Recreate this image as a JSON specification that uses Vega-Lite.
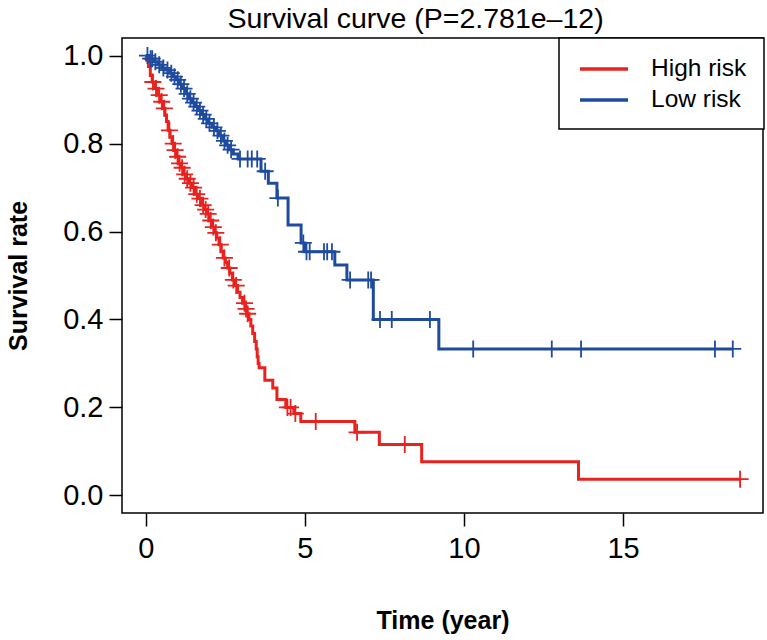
{
  "$schema": "https://vega.github.io/schema/vega-lite/v6.json",
  "width": 641,
  "height": 475,
  "autosize": {"type": "none"},
  "padding": {"left": 122, "top": 38, "right": 4, "bottom": 127},
  "background": "white",
  "config": {
    "font": "Liberation Sans",
    "view": {"stroke": "black", "strokeWidth": 1.5},
    "axis": {"grid": false, "domain": false, "tickColor": "black", "tickWidth": 1.5, "tickSize": 13, "labelColor": "black", "labelFontSize": 29, "labelFont": "Liberation Sans", "titleFont": "Liberation Sans", "titleFontSize": 25, "titleFontWeight": "bold", "titleColor": "black"}
  },
  "title": {"text": "Survival curve (P=2.781e\u201312)", "fontSize": 28.5, "fontWeight": "normal", "font": "Liberation Sans", "color": "black", "anchor": "middle", "dx": -27, "offset": 4},
  "data": {"values": [
    {"g":"High risk","t":0,"s":1,"k":"s"},
    {"g":"High risk","t":0.02,"s":0.99,"k":"e"},
    {"g":"High risk","t":0.08,"s":0.975,"k":"e"},
    {"g":"High risk","t":0.14,"s":0.955,"k":"e"},
    {"g":"High risk","t":0.2,"s":0.94,"k":"e"},
    {"g":"High risk","t":0.28,"s":0.925,"k":"e"},
    {"g":"High risk","t":0.36,"s":0.91,"k":"e"},
    {"g":"High risk","t":0.45,"s":0.895,"k":"e"},
    {"g":"High risk","t":0.53,"s":0.88,"k":"e"},
    {"g":"High risk","t":0.6,"s":0.865,"k":"e"},
    {"g":"High risk","t":0.65,"s":0.85,"k":"e"},
    {"g":"High risk","t":0.7,"s":0.83,"k":"e"},
    {"g":"High risk","t":0.76,"s":0.815,"k":"e"},
    {"g":"High risk","t":0.82,"s":0.8,"k":"e"},
    {"g":"High risk","t":0.88,"s":0.785,"k":"e"},
    {"g":"High risk","t":0.95,"s":0.77,"k":"e"},
    {"g":"High risk","t":1.02,"s":0.755,"k":"e"},
    {"g":"High risk","t":1.1,"s":0.745,"k":"e"},
    {"g":"High risk","t":1.18,"s":0.73,"k":"e"},
    {"g":"High risk","t":1.26,"s":0.72,"k":"e"},
    {"g":"High risk","t":1.35,"s":0.71,"k":"e"},
    {"g":"High risk","t":1.45,"s":0.7,"k":"e"},
    {"g":"High risk","t":1.55,"s":0.685,"k":"e"},
    {"g":"High risk","t":1.65,"s":0.675,"k":"e"},
    {"g":"High risk","t":1.75,"s":0.66,"k":"e"},
    {"g":"High risk","t":1.85,"s":0.65,"k":"e"},
    {"g":"High risk","t":1.92,"s":0.64,"k":"e"},
    {"g":"High risk","t":2.0,"s":0.625,"k":"e"},
    {"g":"High risk","t":2.08,"s":0.61,"k":"e"},
    {"g":"High risk","t":2.16,"s":0.597,"k":"e"},
    {"g":"High risk","t":2.23,"s":0.585,"k":"e"},
    {"g":"High risk","t":2.3,"s":0.57,"k":"e"},
    {"g":"High risk","t":2.37,"s":0.555,"k":"e"},
    {"g":"High risk","t":2.43,"s":0.54,"k":"e"},
    {"g":"High risk","t":2.5,"s":0.53,"k":"e"},
    {"g":"High risk","t":2.57,"s":0.517,"k":"e"},
    {"g":"High risk","t":2.64,"s":0.505,"k":"e"},
    {"g":"High risk","t":2.72,"s":0.49,"k":"e"},
    {"g":"High risk","t":2.8,"s":0.477,"k":"e"},
    {"g":"High risk","t":2.88,"s":0.462,"k":"e"},
    {"g":"High risk","t":2.96,"s":0.45,"k":"e"},
    {"g":"High risk","t":3.04,"s":0.437,"k":"e"},
    {"g":"High risk","t":3.12,"s":0.424,"k":"e"},
    {"g":"High risk","t":3.18,"s":0.413,"k":"e"},
    {"g":"High risk","t":3.24,"s":0.4,"k":"e"},
    {"g":"High risk","t":3.3,"s":0.385,"k":"e"},
    {"g":"High risk","t":3.36,"s":0.368,"k":"e"},
    {"g":"High risk","t":3.42,"s":0.35,"k":"e"},
    {"g":"High risk","t":3.47,"s":0.333,"k":"e"},
    {"g":"High risk","t":3.5,"s":0.315,"k":"e"},
    {"g":"High risk","t":3.53,"s":0.3,"k":"e"},
    {"g":"High risk","t":3.56,"s":0.29,"k":"e"},
    {"g":"High risk","t":3.74,"s":0.262,"k":"e"},
    {"g":"High risk","t":3.99,"s":0.244,"k":"e"},
    {"g":"High risk","t":4.12,"s":0.218,"k":"e"},
    {"g":"High risk","t":4.4,"s":0.2,"k":"e"},
    {"g":"High risk","t":4.65,"s":0.186,"k":"e"},
    {"g":"High risk","t":4.87,"s":0.168,"k":"e"},
    {"g":"High risk","t":6.57,"s":0.1435,"k":"e"},
    {"g":"High risk","t":7.34,"s":0.116,"k":"e"},
    {"g":"High risk","t":8.67,"s":0.0767,"k":"e"},
    {"g":"High risk","t":13.6,"s":0.037,"k":"e"},
    {"g":"High risk","t":0.22,"s":0.94,"k":"c"},
    {"g":"High risk","t":0.32,"s":0.925,"k":"c"},
    {"g":"High risk","t":0.42,"s":0.91,"k":"c"},
    {"g":"High risk","t":0.5,"s":0.895,"k":"c"},
    {"g":"High risk","t":0.58,"s":0.88,"k":"c"},
    {"g":"High risk","t":0.74,"s":0.83,"k":"c"},
    {"g":"High risk","t":0.86,"s":0.8,"k":"c"},
    {"g":"High risk","t":0.92,"s":0.785,"k":"c"},
    {"g":"High risk","t":1.0,"s":0.77,"k":"c"},
    {"g":"High risk","t":1.06,"s":0.755,"k":"c"},
    {"g":"High risk","t":1.14,"s":0.745,"k":"c"},
    {"g":"High risk","t":1.22,"s":0.73,"k":"c"},
    {"g":"High risk","t":1.3,"s":0.72,"k":"c"},
    {"g":"High risk","t":1.4,"s":0.71,"k":"c"},
    {"g":"High risk","t":1.5,"s":0.7,"k":"c"},
    {"g":"High risk","t":1.6,"s":0.685,"k":"c"},
    {"g":"High risk","t":1.7,"s":0.675,"k":"c"},
    {"g":"High risk","t":1.8,"s":0.66,"k":"c"},
    {"g":"High risk","t":1.88,"s":0.65,"k":"c"},
    {"g":"High risk","t":1.96,"s":0.64,"k":"c"},
    {"g":"High risk","t":2.04,"s":0.625,"k":"c"},
    {"g":"High risk","t":2.12,"s":0.61,"k":"c"},
    {"g":"High risk","t":2.2,"s":0.597,"k":"c"},
    {"g":"High risk","t":2.34,"s":0.57,"k":"c"},
    {"g":"High risk","t":2.47,"s":0.54,"k":"c"},
    {"g":"High risk","t":2.62,"s":0.517,"k":"c"},
    {"g":"High risk","t":2.75,"s":0.49,"k":"c"},
    {"g":"High risk","t":2.84,"s":0.477,"k":"c"},
    {"g":"High risk","t":3.1,"s":0.437,"k":"c"},
    {"g":"High risk","t":3.15,"s":0.424,"k":"c"},
    {"g":"High risk","t":3.2,"s":0.413,"k":"c"},
    {"g":"High risk","t":4.45,"s":0.2,"k":"c"},
    {"g":"High risk","t":4.55,"s":0.2,"k":"c"},
    {"g":"High risk","t":4.7,"s":0.186,"k":"c"},
    {"g":"High risk","t":5.34,"s":0.168,"k":"c"},
    {"g":"High risk","t":6.64,"s":0.1435,"k":"c"},
    {"g":"High risk","t":8.14,"s":0.116,"k":"c"},
    {"g":"High risk","t":18.68,"s":0.037,"k":"c"},
    {"g":"Low risk","t":0,"s":1,"k":"s"},
    {"g":"Low risk","t":0.12,"s":0.993,"k":"e"},
    {"g":"Low risk","t":0.25,"s":0.986,"k":"e"},
    {"g":"Low risk","t":0.38,"s":0.979,"k":"e"},
    {"g":"Low risk","t":0.5,"s":0.972,"k":"e"},
    {"g":"Low risk","t":0.62,"s":0.967,"k":"e"},
    {"g":"Low risk","t":0.75,"s":0.96,"k":"e"},
    {"g":"Low risk","t":0.85,"s":0.952,"k":"e"},
    {"g":"Low risk","t":0.95,"s":0.945,"k":"e"},
    {"g":"Low risk","t":1.05,"s":0.935,"k":"e"},
    {"g":"Low risk","t":1.15,"s":0.925,"k":"e"},
    {"g":"Low risk","t":1.25,"s":0.913,"k":"e"},
    {"g":"Low risk","t":1.35,"s":0.902,"k":"e"},
    {"g":"Low risk","t":1.45,"s":0.893,"k":"e"},
    {"g":"Low risk","t":1.55,"s":0.884,"k":"e"},
    {"g":"Low risk","t":1.65,"s":0.875,"k":"e"},
    {"g":"Low risk","t":1.75,"s":0.866,"k":"e"},
    {"g":"Low risk","t":1.85,"s":0.856,"k":"e"},
    {"g":"Low risk","t":1.95,"s":0.846,"k":"e"},
    {"g":"Low risk","t":2.08,"s":0.837,"k":"e"},
    {"g":"Low risk","t":2.2,"s":0.829,"k":"e"},
    {"g":"Low risk","t":2.3,"s":0.818,"k":"e"},
    {"g":"Low risk","t":2.42,"s":0.806,"k":"e"},
    {"g":"Low risk","t":2.52,"s":0.796,"k":"e"},
    {"g":"Low risk","t":2.62,"s":0.786,"k":"e"},
    {"g":"Low risk","t":2.75,"s":0.776,"k":"e"},
    {"g":"Low risk","t":2.9,"s":0.765,"k":"e"},
    {"g":"Low risk","t":3.62,"s":0.737,"k":"e"},
    {"g":"Low risk","t":3.85,"s":0.71,"k":"e"},
    {"g":"Low risk","t":4.12,"s":0.676,"k":"e"},
    {"g":"Low risk","t":4.47,"s":0.615,"k":"e"},
    {"g":"Low risk","t":4.88,"s":0.574,"k":"e"},
    {"g":"Low risk","t":5.0,"s":0.554,"k":"e"},
    {"g":"Low risk","t":5.94,"s":0.524,"k":"e"},
    {"g":"Low risk","t":6.32,"s":0.49,"k":"e"},
    {"g":"Low risk","t":7.15,"s":0.4,"k":"e"},
    {"g":"Low risk","t":9.21,"s":0.333,"k":"e"},
    {"g":"Low risk","t":0.05,"s":1,"k":"c"},
    {"g":"Low risk","t":0.15,"s":0.993,"k":"c"},
    {"g":"Low risk","t":0.2,"s":0.993,"k":"c"},
    {"g":"Low risk","t":0.3,"s":0.986,"k":"c"},
    {"g":"Low risk","t":0.42,"s":0.979,"k":"c"},
    {"g":"Low risk","t":0.55,"s":0.972,"k":"c"},
    {"g":"Low risk","t":0.68,"s":0.967,"k":"c"},
    {"g":"Low risk","t":0.8,"s":0.96,"k":"c"},
    {"g":"Low risk","t":0.9,"s":0.952,"k":"c"},
    {"g":"Low risk","t":1.0,"s":0.945,"k":"c"},
    {"g":"Low risk","t":1.1,"s":0.935,"k":"c"},
    {"g":"Low risk","t":1.2,"s":0.925,"k":"c"},
    {"g":"Low risk","t":1.3,"s":0.913,"k":"c"},
    {"g":"Low risk","t":1.4,"s":0.902,"k":"c"},
    {"g":"Low risk","t":1.5,"s":0.893,"k":"c"},
    {"g":"Low risk","t":1.6,"s":0.884,"k":"c"},
    {"g":"Low risk","t":1.7,"s":0.875,"k":"c"},
    {"g":"Low risk","t":1.8,"s":0.866,"k":"c"},
    {"g":"Low risk","t":1.9,"s":0.856,"k":"c"},
    {"g":"Low risk","t":2.0,"s":0.846,"k":"c"},
    {"g":"Low risk","t":2.14,"s":0.837,"k":"c"},
    {"g":"Low risk","t":2.25,"s":0.829,"k":"c"},
    {"g":"Low risk","t":2.36,"s":0.818,"k":"c"},
    {"g":"Low risk","t":2.47,"s":0.806,"k":"c"},
    {"g":"Low risk","t":2.57,"s":0.796,"k":"c"},
    {"g":"Low risk","t":2.68,"s":0.786,"k":"c"},
    {"g":"Low risk","t":2.96,"s":0.765,"k":"c"},
    {"g":"Low risk","t":3.2,"s":0.765,"k":"c"},
    {"g":"Low risk","t":3.33,"s":0.765,"k":"c"},
    {"g":"Low risk","t":3.5,"s":0.765,"k":"c"},
    {"g":"Low risk","t":3.75,"s":0.737,"k":"c"},
    {"g":"Low risk","t":4.15,"s":0.676,"k":"c"},
    {"g":"Low risk","t":4.95,"s":0.574,"k":"c"},
    {"g":"Low risk","t":5.05,"s":0.554,"k":"c"},
    {"g":"Low risk","t":5.15,"s":0.554,"k":"c"},
    {"g":"Low risk","t":5.6,"s":0.554,"k":"c"},
    {"g":"Low risk","t":5.7,"s":0.554,"k":"c"},
    {"g":"Low risk","t":5.85,"s":0.554,"k":"c"},
    {"g":"Low risk","t":6.42,"s":0.49,"k":"c"},
    {"g":"Low risk","t":6.99,"s":0.49,"k":"c"},
    {"g":"Low risk","t":7.08,"s":0.49,"k":"c"},
    {"g":"Low risk","t":7.36,"s":0.4,"k":"c"},
    {"g":"Low risk","t":7.73,"s":0.4,"k":"c"},
    {"g":"Low risk","t":8.93,"s":0.4,"k":"c"},
    {"g":"Low risk","t":10.29,"s":0.333,"k":"c"},
    {"g":"Low risk","t":12.76,"s":0.333,"k":"c"},
    {"g":"Low risk","t":13.68,"s":0.333,"k":"c"},
    {"g":"Low risk","t":17.89,"s":0.333,"k":"c"},
    {"g":"Low risk","t":18.45,"s":0.333,"k":"c"}
  ]},
  "encoding": {
    "x": {"field": "t", "type": "quantitative", "scale": {"domain": [-0.75, 19.4], "nice": false, "zero": false},
          "axis": {"values": [0, 5, 10, 15], "title": "Time (year)", "labelPadding": 8, "titleX": 320.5, "titleY": 107, "titleBaseline": "middle", "titleAlign": "center"}},
    "y": {"field": "s", "type": "quantitative", "scale": {"domain": [-0.04, 1.04], "nice": false, "zero": false},
          "axis": {"values": [0, 0.2, 0.4, 0.6, 0.8, 1.0], "format": ".1f", "title": "Survival rate", "labelPadding": 6, "titleX": -104, "titleY": 237.5, "titleAngle": 270, "titleBaseline": "middle", "titleAlign": "center"}}
  },
  "layer": [
    {
      "mark": {"type": "line", "interpolate": "step-after", "strokeWidth": 3},
      "encoding": {
        "color": {"field": "g", "type": "nominal",
          "scale": {"domain": ["High risk", "Low risk"], "range": ["#E8221F", "#1E4B9F"]},
          "legend": {"title": null, "orient": "none", "legendX": 437, "legendY": 0, "symbolType": "M-2,0L2,0", "symbolSize": 576, "symbolStrokeWidth": 3.5, "symbolOffset": 14, "labelFontSize": 24.5, "labelFont": "Liberation Sans", "labelColor": "black", "labelOffset": 33, "padding": 17, "rowPadding": 5, "strokeColor": "black", "fillColor": "white", "labelLimit": 300,
            "encode": {"legend": {"update": {"strokeWidth": {"value": 1.5}}}}}
        }
      }
    },
    {
      "transform": [{"filter": "datum.k == 'c'"}],
      "mark": {"type": "point", "shape": "M-1,0L1,0M0,-1L0,1", "size": 289, "filled": false, "strokeWidth": 1.8, "opacity": 1},
      "encoding": {
        "stroke": {"field": "g", "type": "nominal", "scale": {"domain": ["High risk", "Low risk"], "range": ["#E8221F", "#1E4B9F"]}, "legend": null}
      }
    }
  ]
}
